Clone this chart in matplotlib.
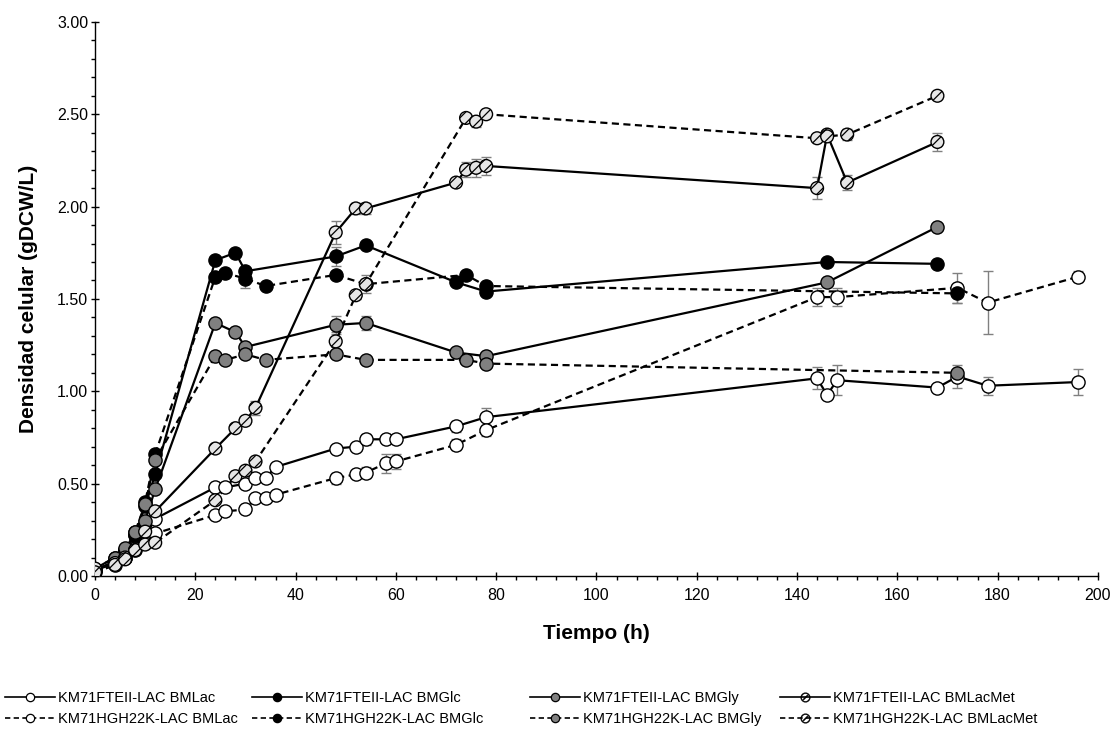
import matplotlib
matplotlib.use('Agg')
import matplotlib.pyplot as plt
from matplotlib.lines import Line2D
from matplotlib.ticker import MultipleLocator, FormatStrFormatter

plt.rcParams['font.family'] = ['Liberation Sans', 'DejaVu Sans']
plt.rcParams['hatch.linewidth'] = 0.9

# --- datos (tiempo en h, densidad en gDCW/L) ---
t_ft_lac = [0, 4, 6, 8, 10, 12, 24, 26, 30, 32, 34, 36, 48, 52, 54, 58, 60, 72, 78,
            144, 146, 148, 168, 172, 178, 196]
y_ft_lac = [0.03, 0.07, 0.10, 0.15, 0.21, 0.31, 0.48, 0.48, 0.50, 0.53, 0.53, 0.59,
            0.69, 0.70, 0.74, 0.74, 0.74, 0.81, 0.86, 1.07, 0.98, 1.06, 1.02, 1.08,
            1.03, 1.05]
e_ft_lac = [0, 0, 0, 0, 0, 0, 0, 0, 0, 0, 0, 0, 0.01, 0.01, 0.03, 0.01, 0.01, 0.03,
            0.05, 0.06, 0.02, 0.08, 0.02, 0.06, 0.05, 0.07]

t_hg_lac = [0, 4, 6, 8, 10, 12, 24, 26, 30, 32, 34, 36, 48, 52, 54, 58, 60, 72, 78,
            144, 148, 172, 178, 196]
y_hg_lac = [0.02, 0.06, 0.10, 0.14, 0.18, 0.23, 0.33, 0.35, 0.36, 0.42, 0.42, 0.44,
            0.53, 0.55, 0.56, 0.61, 0.62, 0.71, 0.79, 1.51, 1.51, 1.56, 1.48, 1.62]
e_hg_lac = [0, 0, 0, 0, 0, 0, 0, 0, 0, 0, 0, 0, 0.03, 0.01, 0.03, 0.05, 0.04, 0.03,
            0.03, 0.05, 0.05, 0.08, 0.17, 0.03]

t_ft_glc = [0, 4, 6, 8, 10, 12, 24, 28, 30, 48, 54, 72, 78, 146, 168]
y_ft_glc = [0.03, 0.08, 0.14, 0.22, 0.38, 0.55, 1.71, 1.75, 1.65, 1.73, 1.79, 1.59,
            1.54, 1.70, 1.69]
e_ft_glc = [0, 0, 0, 0, 0, 0, 0, 0, 0.02, 0.05, 0, 0, 0, 0, 0]

t_hg_glc = [0, 4, 6, 8, 10, 12, 24, 26, 30, 34, 48, 54, 74, 78, 172]
y_hg_glc = [0.03, 0.08, 0.14, 0.22, 0.40, 0.66, 1.62, 1.64, 1.61, 1.57, 1.63, 1.58,
            1.63, 1.57, 1.53]
e_hg_glc = [0, 0, 0, 0, 0, 0, 0, 0, 0.05, 0, 0.02, 0, 0, 0.02, 0.05]

t_ft_gly = [0, 4, 6, 8, 10, 12, 24, 28, 30, 48, 54, 72, 78, 146, 168]
y_ft_gly = [0.04, 0.10, 0.14, 0.24, 0.30, 0.47, 1.37, 1.32, 1.24, 1.36, 1.37, 1.21,
            1.19, 1.59, 1.89]
e_ft_gly = [0, 0, 0, 0, 0, 0, 0, 0, 0, 0.05, 0.04, 0, 0, 0, 0]

t_hg_gly = [0, 4, 6, 8, 10, 12, 24, 26, 30, 34, 48, 54, 74, 78, 172]
y_hg_gly = [0.04, 0.10, 0.15, 0.24, 0.39, 0.63, 1.19, 1.17, 1.20, 1.17, 1.20, 1.17,
            1.17, 1.15, 1.10]
e_hg_gly = [0, 0, 0, 0, 0, 0, 0, 0, 0, 0, 0.02, 0, 0, 0, 0]

t_ft_met = [0, 4, 6, 8, 10, 12, 24, 28, 30, 32, 48, 52, 54, 72, 74, 76, 78,
            144, 146, 150, 168]
y_ft_met = [0.04, 0.07, 0.10, 0.14, 0.24, 0.35, 0.69, 0.80, 0.84, 0.91, 1.86, 1.99,
            1.99, 2.13, 2.20, 2.21, 2.22, 2.10, 2.39, 2.13, 2.35]
e_ft_met = [0, 0, 0, 0, 0, 0, 0, 0, 0, 0.04, 0.06, 0.03, 0.03, 0, 0.04, 0.05, 0.05,
            0.06, 0, 0.04, 0.05]

t_hg_met = [0, 4, 6, 8, 10, 12, 24, 28, 30, 32, 48, 52, 54, 74, 76, 78,
            144, 146, 150, 168]
y_hg_met = [0.02, 0.06, 0.09, 0.14, 0.17, 0.18, 0.41, 0.54, 0.57, 0.62, 1.27, 1.52,
            1.58, 2.48, 2.46, 2.50, 2.37, 2.38, 2.39, 2.60]
e_hg_met = [0, 0, 0, 0, 0, 0, 0, 0, 0, 0, 0.05, 0.02, 0.05, 0, 0.03, 0, 0, 0, 0.03, 0]

labels = ['KM71FTEII-LAC BMLac', 'KM71HGH22K-LAC BMLac',
          'KM71FTEII-LAC BMGlc', 'KM71HGH22K-LAC BMGlc',
          'KM71FTEII-LAC BMGly', 'KM71HGH22K-LAC BMGly',
          'KM71FTEII-LAC BMLacMet', 'KM71HGH22K-LAC BMLacMet']

series = [
    (t_ft_lac, y_ft_lac, e_ft_lac, 'white', '-', False),
    (t_hg_lac, y_hg_lac, e_hg_lac, 'white', '--', False),
    (t_ft_glc, y_ft_glc, e_ft_glc, 'black', '-', False),
    (t_hg_glc, y_hg_glc, e_hg_glc, 'black', '--', False),
    (t_ft_gly, y_ft_gly, e_ft_gly, '#808080', '-', False),
    (t_hg_gly, y_hg_gly, e_hg_gly, '#808080', '--', False),
    (t_ft_met, y_ft_met, e_ft_met, '#e6e6e6', '-', True),
    (t_hg_met, y_hg_met, e_hg_met, '#e6e6e6', '--', True),
]
dash = (0, (3.2, 2.0))

fig = plt.figure(figsize=(11.18, 7.30), dpi=100)
ax = fig.add_axes([0.085, 0.211, 0.897, 0.759])

# barras de error
for t, y, e, fc, ls, hat in series:
    ax.errorbar(t, y, yerr=e, fmt='none', ecolor='#808080', elinewidth=1.0,
                capsize=3.5, capthick=1.0, zorder=1)

handles = []
for i, (t, y, e, fc, ls, hat) in enumerate(series):
    style = '-' if ls == '-' else dash
    ax.plot(t, y, linestyle=style, color='black', lw=1.6, zorder=2)
    if hat:
        ax.scatter(t, y, s=85, facecolor=fc, edgecolor='black', linewidths=1.0,
                   hatch='///', zorder=3 + i)
        h = Line2D([], [], color='black', lw=1.2, linestyle=style,
                   marker=r'$\oslash$', markersize=7, markeredgewidth=0.2)
    else:
        ax.plot(t, y, linestyle='none', marker='o', markersize=9.5,
                markerfacecolor=fc, markeredgecolor='black',
                markeredgewidth=1.0, zorder=3 + i)
        h = Line2D([], [], color='black', lw=1.2, linestyle=style, marker='o',
                   markersize=6, markerfacecolor=fc, markeredgecolor='black',
                   markeredgewidth=0.9)
    handles.append(h)

ax.set_xlim(0, 200)
ax.set_ylim(0, 3.0)
ax.xaxis.set_major_locator(MultipleLocator(20))
ax.xaxis.set_minor_locator(MultipleLocator(4))
ax.yaxis.set_major_locator(MultipleLocator(0.5))
ax.yaxis.set_minor_locator(MultipleLocator(0.1))
ax.yaxis.set_major_formatter(FormatStrFormatter('%.2f'))
ax.tick_params(which='major', direction='inout', length=6, width=1.0,
               labelsize=11.5)
ax.tick_params(axis='x', which='major', pad=6)
ax.tick_params(axis='y', which='major', pad=2)
ax.tick_params(which='minor', direction='out', length=3, width=1.0)

for side in ['top', 'right']:
    ax.spines[side].set_visible(False)
for side in ['left', 'bottom']:
    ax.spines[side].set_linewidth(1.0)

ax.set_xlabel('Tiempo (h)', fontsize=15, fontweight='bold', labelpad=15)
ax.set_ylabel('Densidad celular (gDCW/L)', fontsize=15, fontweight='bold',
              labelpad=14)

# leyenda en cuatro columnas debajo del gráfico
col_x = [5, 252, 530, 780]
for j, x0 in enumerate(col_x):
    fig.legend(handles[2 * j:2 * j + 2], labels[2 * j:2 * j + 2],
               loc='lower left', bbox_to_anchor=(x0 / 1118, 0.006),
               frameon=False, fontsize=10.5, handlelength=3.4,
               handletextpad=0.25, labelspacing=0.45, borderpad=0,
               borderaxespad=0)

fig.savefig('out.png', dpi=100)
